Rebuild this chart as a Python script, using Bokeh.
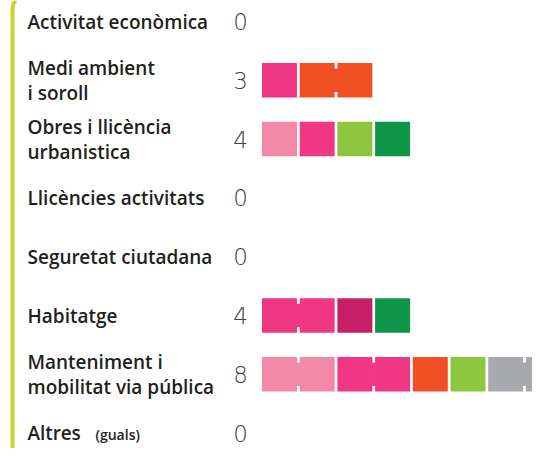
from bokeh.plotting import figure
from bokeh.models import Range1d, ColumnDataSource
from bokeh.core.properties import value
from bokeh.embed import file_html
from bokeh.resources import INLINE

# ---------------- data ----------------
categories = [
    "Activitat econòmica",
    "Medi ambient\ni soroll",
    "Obres i llicència\nurbanistica",
    "Llicències activitats",
    "Seguretat ciutadana",
    "Habitatge",
    "Manteniment i\nmobilitat via pública",
    "Altres",
]
counts = [0, 3, 4, 0, 0, 4, 8, 0]
extra_note = ["", "", "", "", "", "", "", "(guals)"]
unit_types = [
    [],
    ["B", "C", "C"],
    ["A", "B", "D", "E"],
    [],
    [],
    ["B", "B", "F", "E"],
    ["A", "A", "B", "B", "C", "D", "G", "G"],
    [],
]
palette = {
    "A": "#f388a8",
    "B": "#ef3783",
    "C": "#f15024",
    "D": "#8dc63f",
    "E": "#0e9547",
    "F": "#c81f69",
    "G": "#a7a9ac",
}

# ---------------- layout ----------------
W, H = 532, 448
ROW_PX = 58.8
PITCH_PX = 37.7
FIRST_ROW_PX = 21.0       # row 0 centre, from top of plot
FIRST_UNIT_PX = 261.5     # left edge of unit 0, from left of plot
SQ = 0.928                # square width in units
SQ_H = 34.5 / ROW_PX      # square height in row units

x_start = -FIRST_UNIT_PX / PITCH_PX
x_end = x_start + W / PITCH_PX
y_top = -FIRST_ROW_PX / ROW_PX
y_bottom = y_top + H / ROW_PX


def px_x(px):
    return x_start + px / PITCH_PX


def px_y(px):
    return y_top + px / ROW_PX


p = figure(width=W, height=H, output_backend="svg", toolbar_location=None,
           x_range=Range1d(x_start, x_end), y_range=Range1d(y_bottom, y_top),
           min_border=0, outline_line_color=None, background_fill_color="white",
           border_fill_color="white")
p.axis.visible = False
p.grid.visible = False

rows = list(range(len(categories)))

# squares
sx, sy, sc = [], [], []
cx, cy, cc = [], [], []
for r, types in enumerate(unit_types):
    for k, t in enumerate(types):
        sx.append(k + SQ / 2)
        sy.append(r)
        sc.append(palette[t])
        if k + 1 < len(types) and types[k + 1] == t:
            cx.append(k + (1 + SQ) / 2)
            cy.append(r)
            cc.append(palette[t])

p.rect(x="x", y="y", width=SQ, height=SQ_H, fill_color="c", line_color=None,
       source=ColumnDataSource(dict(x=sx, y=sy, c=sc)))
p.rect(x="x", y="y", width=(1 - SQ) + 0.04, height=SQ_H * 0.68, fill_color="c",
       line_color=None, source=ColumnDataSource(dict(x=cx, y=cy, c=cc)))

# green side line
p.line(x=[px_x(12), px_x(12), px_x(13), px_x(15)],
       y=[y_bottom, px_y(8), px_y(3), y_top],
       line_color="#c5d92d", line_width=4)

label_x = [px_x(27)] * len(categories)
p.text(x=label_x, y=rows, text=categories,
       text_font=value("Open Sans SemiBold, Open Sans"),
       text_font_size="19px", text_color="#231f20", text_baseline="middle",
       text_align="left", text_line_height=0.96)

# "(guals)" note
note_rows = [r for r, n in enumerate(extra_note) if n]
p.text(x=[px_x(95)] * len(note_rows), y=note_rows,
       text=[extra_note[r] for r in note_rows],
       text_font=value("Open Sans SemiBold, Open Sans"),
       text_font_size="14px", text_color="#231f20", text_baseline="middle",
       text_align="left", y_offset=1)

num_x = [px_x(240)] * len(categories)
p.text(x=num_x, y=rows, text=[str(c) for c in counts],
       text_font=value("DejaVu Sans ExtraLight, DejaVu Sans Light, Lato"),
       text_font_size="23px", text_color="#414042", text_baseline="middle",
       text_align="center")

open("out.html", "w").write(file_html(p, INLINE))
